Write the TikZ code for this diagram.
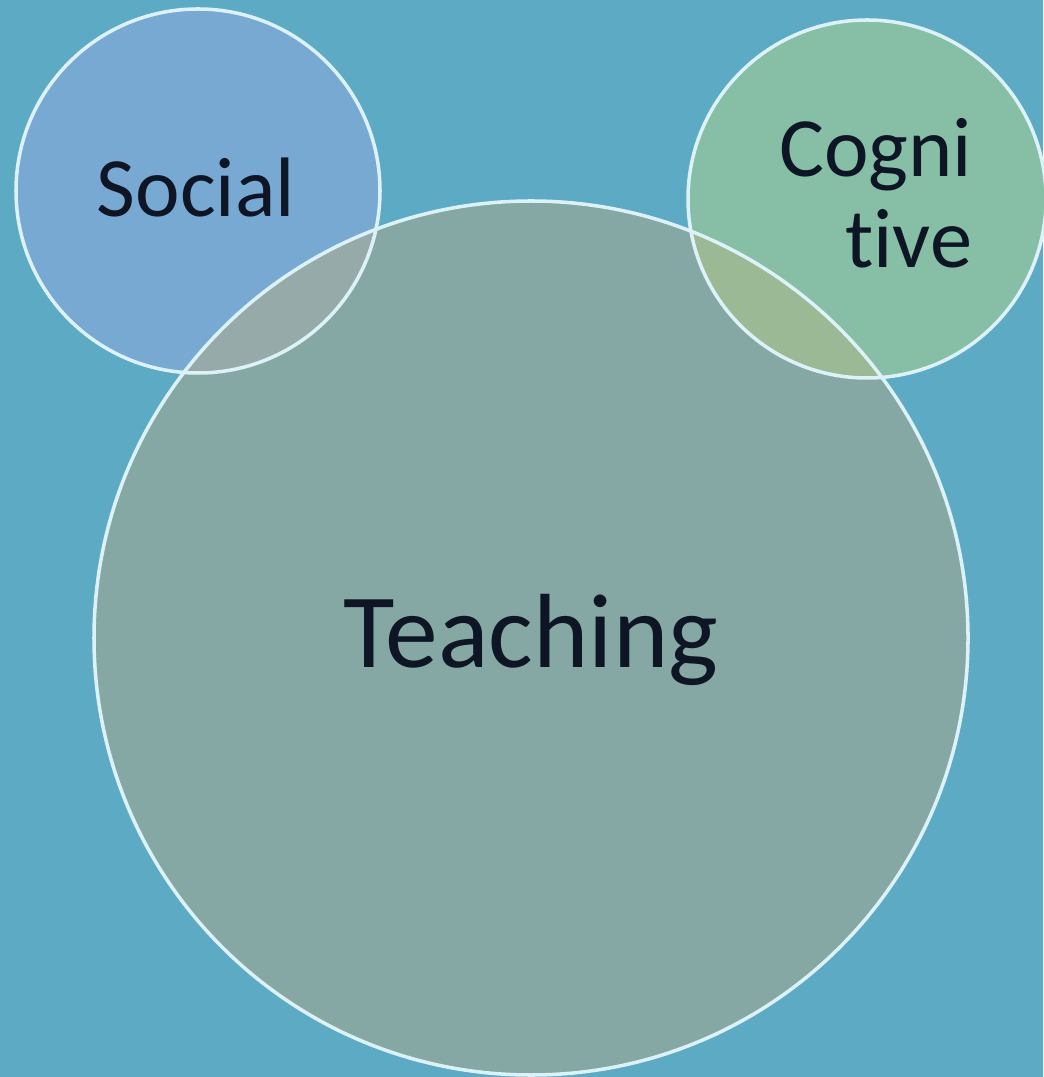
\documentclass[tikz,border=0pt]{standalone}
\usepackage{fontspec}
\setmainfont{Carlito}[Ligatures={NoCommon}]
\definecolor{bg}{HTML}{5CAAC3}
\definecolor{socfill}{HTML}{78A9D3}
\definecolor{teachfill}{HTML}{86A8A4}
\definecolor{cogfill}{HTML}{86BEA6}
\definecolor{socteach}{HTML}{97AAAA}
\definecolor{cogteach}{HTML}{9CB995}
\definecolor{ring}{HTML}{DDF2F8}
\definecolor{ink}{HTML}{0E1626}
\begin{document}
\begin{tikzpicture}[x=0.01cm,y=-0.01cm,
  ringline/.style={draw=ring,line width=1pt},
  lbl/.style={text=ink,inner sep=0pt}]
\fill[bg] (0,0) rectangle (1043,1077);
\useasboundingbox (0,0) rectangle (1043,1077);
\coordinate (sc) at (198,191);
\coordinate (tc) at (531,638);
\coordinate (cc) at (867,199);
\def\rs{182}\def\rt{437}\def\rc{179}
\fill[socfill] (sc) circle (\rs);
\fill[cogfill] (cc) circle (\rc);
\fill[teachfill] (tc) circle (\rt);
\begin{scope}
  \clip (sc) circle (\rs);
  \fill[socteach] (tc) circle (\rt);
\end{scope}
\begin{scope}
  \clip (cc) circle (\rc);
  \fill[cogteach] (tc) circle (\rt);
\end{scope}
\draw[ringline] (sc) circle (\rs);
\draw[ringline] (cc) circle (\rc);
\draw[ringline] (tc) circle (\rt);
\node[lbl,font=\fontsize{24}{28}\selectfont,anchor=base] (social) at (196,217) {Social};
\node[lbl,font=\fontsize{30}{34}\selectfont,anchor=base] (teaching) at (531,667) {Teaching};
\node[lbl,font=\fontsize{24}{28}\selectfont,anchor=base east] (cogni) at (973,177) {Cogni};
\node[lbl,font=\fontsize{24}{28}\selectfont,anchor=base east] (tive) at (973,268) {tive};
\end{tikzpicture}
\end{document}
